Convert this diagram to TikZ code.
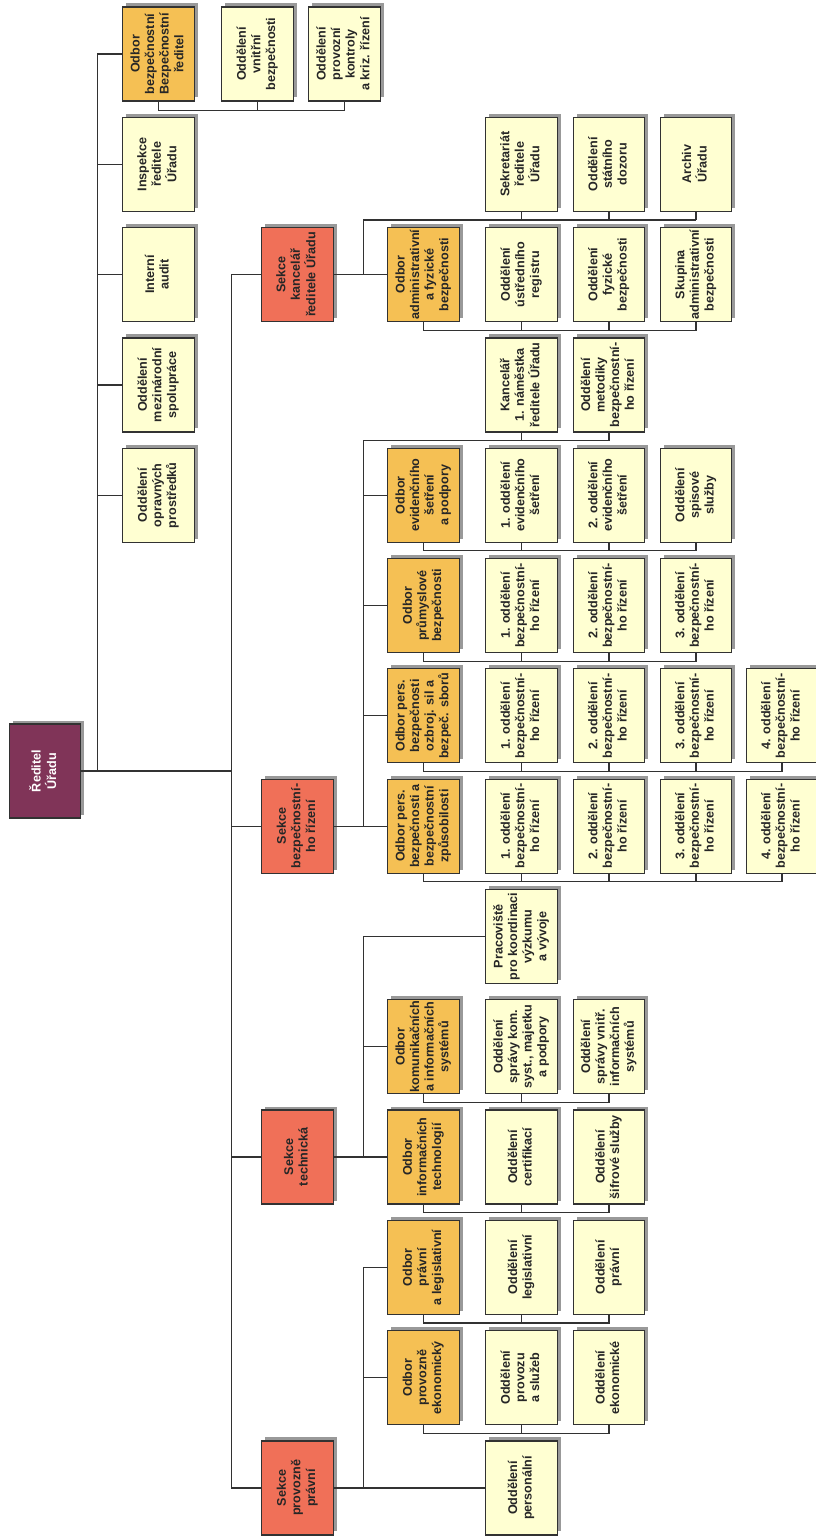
\documentclass[tikz,border=0pt]{standalone}
\usepackage{fontspec}
\setmainfont{Liberation Sans}
\usepackage{graphicx}
\usepackage{tikz}
\usetikzlibrary{positioning,shadows}
\definecolor{rootcol}{RGB}{128,52,88}
\definecolor{sekcecol}{RGB}{240,112,88}
\definecolor{odborcol}{RGB}{245,192,84}
\definecolor{oddcol}{RGB}{255,255,210}
\definecolor{linecol}{RGB}{50,50,50}
\newcommand{\vt}[1]{\rotatebox{90}{\begin{tabular}{@{}c@{}}#1\end{tabular}}}

\begin{document}
\begin{tikzpicture}[
    x=1pt, y=-1pt,
    box/.style={draw=linecol, line width=1.2pt, rectangle, minimum width=71.5pt, minimum height=94pt, inner sep=0pt,
        font=\bfseries\fontsize{12.6}{14.6}\selectfont, fill=oddcol, text=black!85,
        drop shadow={shadow xshift=3.5pt, shadow yshift=3.5pt, fill=black!40, opacity=1}},
    root/.style={box, fill=rootcol, text=white},
    sekce/.style={box, fill=sekcecol},
    odbor/.style={box, fill=odborcol},
    line/.style={draw=linecol, line width=1.2pt}
]
    \useasboundingbox (0,0) rectangle (816,1536);

    % Nodes
    \node[root] (reditel) at (45,771) {\vt{Ředitel\\Úřadu}};

    \node[odbor] (obBezp) at (158.5,54) {\vt{Odbor\\bezpečnostní\\Bezpečnostní\\ředitel}};
    \node[box] (vnitrni) at (257.5,54) {\vt{Oddělení\\vnitřní\\bezpečnosti}};
    \node[box] (provKont) at (344.5,54) {\vt{Oddělení\\provozní\\kontroly\\a kriz. řízení}};
    \node[box] (inspekce) at (158.5,164.3) {\vt{Inspekce\\ředitele\\Úřadu}};
    \node[box] (audit) at (158.5,274.6) {\vt{Interní\\audit}};
    \node[box] (mezinar) at (158.5,384.9) {\vt{Oddělení\\mezinárodní\\spolupráce}};
    \node[box] (opravne) at (158.5,495.2) {\vt{Oddělení\\opravných\\prostředků}};

    \node[sekce] (skKanc) at (297.5,274.6) {\vt{Sekce\\kancelář\\ředitele Úřadu}};
    \node[sekce] (skBezp) at (297.5,826.1) {\vt{Sekce\\bezpečnostní-\\ho řízení}};
    \node[sekce] (skTech) at (297.5,1157) {\vt{Sekce\\technická}};
    \node[sekce] (skProv) at (297.5,1487.9) {\vt{Sekce\\provozně\\právní}};

    % Sekce kancelar reditele
    \node[box] (sekret) at (521.5,164.3) {\vt{Sekretariát\\ředitele\\Úřadu}};
    \node[box] (statDoz) at (609,164.3) {\vt{Oddělení\\státního\\dozoru}};
    \node[box] (archiv) at (696,164.3) {\vt{Archiv\\Úřadu}};
    \node[odbor] (obAdm) at (423.5,274.6) {\vt{Odbor\\administrativní\\a fyzické\\bezpečnosti}};
    \node[box] (registr) at (521.5,274.6) {\vt{Oddělení\\ústředního\\registru}};
    \node[box] (fyzOdd) at (609,274.6) {\vt{Oddělení\\fyzické\\bezpečnosti}};
    \node[box] (skupina) at (696,274.6) {\vt{Skupina\\administrativní\\bezpečnosti}};

    % Sekce bezpecnostniho rizeni
    \node[box] (kanc1) at (521.5,384.9) {\vt{Kancelář\\1. náměstka\\ředitele Úřadu}};
    \node[box] (metod) at (609,384.9) {\vt{Oddělení\\metodiky\\bezpečnostní-\\ho řízení}};
    \node[odbor] (obEvid) at (423.5,495.2) {\vt{Odbor\\evidenčního\\šetření\\a podpory}};
    \node[box] (ev1) at (521.5,495.2) {\vt{1. oddělení\\evidenčního\\šetření}};
    \node[box] (ev2) at (609,495.2) {\vt{2. oddělení\\evidenčního\\šetření}};
    \node[box] (spis) at (696,495.2) {\vt{Oddělení\\spisové\\služby}};
    \node[odbor] (obPrum) at (423.5,605.5) {\vt{Odbor\\průmyslové\\bezpečnosti}};
    \node[box] (pr1) at (521.5,605.5) {\vt{1. oddělení\\bezpečnostní-\\ho řízení}};
    \node[box] (pr2) at (609,605.5) {\vt{2. oddělení\\bezpečnostní-\\ho řízení}};
    \node[box] (pr3) at (696,605.5) {\vt{3. oddělení\\bezpečnostní-\\ho řízení}};
    \node[odbor] (obOzb) at (423.5,715.8) {\vt{Odbor pers.\\bezpečnosti\\ozbroj. sil a\\bezpeč. sborů}};
    \node[box] (oz1) at (521.5,715.8) {\vt{1. oddělení\\bezpečnostní-\\ho řízení}};
    \node[box] (oz2) at (609,715.8) {\vt{2. oddělení\\bezpečnostní-\\ho řízení}};
    \node[box] (oz3) at (696,715.8) {\vt{3. oddělení\\bezpečnostní-\\ho řízení}};
    \node[box] (oz4) at (782,715.8) {\vt{4. oddělení\\bezpečnostní-\\ho řízení}};
    \node[odbor] (obZpus) at (423.5,826.1) {\vt{Odbor pers.\\bezpečnosti a\\bezpečnostní\\způsobilosti}};
    \node[box] (zp1) at (521.5,826.1) {\vt{1. oddělení\\bezpečnostní-\\ho řízení}};
    \node[box] (zp2) at (609,826.1) {\vt{2. oddělení\\bezpečnostní-\\ho řízení}};
    \node[box] (zp3) at (696,826.1) {\vt{3. oddělení\\bezpečnostní-\\ho řízení}};
    \node[box] (zp4) at (782,826.1) {\vt{4. oddělení\\bezpečnostní-\\ho řízení}};

    % Sekce technicka
    \node[box] (pracov) at (521.5,936.4) {\vt{Pracoviště\\pro koordinaci\\výzkumu\\a vývoje}};
    \node[odbor] (obKom) at (423.5,1046.7) {\vt{Odbor\\komunikačních\\a informačních\\systémů}};
    \node[box] (km1) at (521.5,1046.7) {\vt{Oddělení\\správy kom.\\syst., majetku\\a podpory}};
    \node[box] (km2) at (609,1046.7) {\vt{Oddělení\\správy vnitř.\\informačních\\systémů}};
    \node[odbor] (obInf) at (423.5,1157) {\vt{Odbor\\informačních\\technologií}};
    \node[box] (cert) at (521.5,1157) {\vt{Oddělení\\certifikací}};
    \node[box] (sifr) at (609,1157) {\vt{Oddělení\\šifrové služby}};

    % Sekce provozne pravni
    \node[odbor] (obPrav) at (423.5,1267.3) {\vt{Odbor\\právní\\a legislativní}};
    \node[box] (legis) at (521.5,1267.3) {\vt{Oddělení\\legislativní}};
    \node[box] (pravOdd) at (609,1267.3) {\vt{Oddělení\\právní}};
    \node[odbor] (obEko) at (423.5,1377.6) {\vt{Odbor\\provozně\\ekonomický}};
    \node[box] (provoz) at (521.5,1377.6) {\vt{Oddělení\\provozu\\a služeb}};
    \node[box] (ekon) at (609,1377.6) {\vt{Oddělení\\ekonomické}};
    \node[box] (persOdd) at (521.5,1487.9) {\vt{Oddělení\\personální}};

    % Connections
    \draw[line] (reditel.east) -- ++(16,0) |- (obBezp.west);
    \draw[line] (reditel.east) -- ++(16,0) |- (inspekce.west);
    \draw[line] (reditel.east) -- ++(16,0) |- (audit.west);
    \draw[line] (reditel.east) -- ++(16,0) |- (mezinar.west);
    \draw[line] (reditel.east) -- ++(16,0) |- (opravne.west);
    \draw[line] (obBezp.south) -- ++(0,9) -| (provKont.south);
    \draw[line] (vnitrni.south) -- ++(0,9);

    \draw[line] (reditel.east) -- ++(150,0) |- (skKanc.west);
    \draw[line] (reditel.east) -- ++(150,0) |- (skBezp.west);
    \draw[line] (reditel.east) -- ++(150,0) |- (skTech.west);
    \draw[line] (reditel.east) -- ++(150,0) |- (skProv.west);

    \draw[line] (skKanc.east) -- ++(30,0) |- ([yshift=-8pt]archiv.south);
    \draw[line] (sekret.south) -- ++(0,8);
    \draw[line] (statDoz.south) -- ++(0,8);
    \draw[line] (archiv.south) -- ++(0,8);
    \draw[line] (skKanc.east) -- (obAdm.west);
    \draw[line] (obAdm.south) -- ++(0,8) -| (skupina.south);
    \draw[line] (registr.south) -- ++(0,8);
    \draw[line] (fyzOdd.south) -- ++(0,8);

    \draw[line] (skBezp.east) -- ++(30,0) |- ([yshift=-8pt]metod.south);
    \draw[line] (kanc1.south) -- ++(0,8);
    \draw[line] (metod.south) -- ++(0,8);
    \draw[line] (skBezp.east) -- ++(30,0) |- (obEvid.west);
    \draw[line] (skBezp.east) -- ++(30,0) |- (obPrum.west);
    \draw[line] (skBezp.east) -- ++(30,0) |- (obOzb.west);
    \draw[line] (skBezp.east) -- (obZpus.west);
    \draw[line] (obEvid.south) -- ++(0,8) -| (spis.south);
    \draw[line] (ev1.south) -- ++(0,8);
    \draw[line] (ev2.south) -- ++(0,8);
    \draw[line] (obPrum.south) -- ++(0,8) -| (pr3.south);
    \draw[line] (pr1.south) -- ++(0,8);
    \draw[line] (pr2.south) -- ++(0,8);
    \draw[line] (obOzb.south) -- ++(0,8) -| (oz4.south);
    \draw[line] (oz1.south) -- ++(0,8);
    \draw[line] (oz2.south) -- ++(0,8);
    \draw[line] (oz3.south) -- ++(0,8);
    \draw[line] (obZpus.south) -- ++(0,8) -| (zp4.south);
    \draw[line] (zp1.south) -- ++(0,8);
    \draw[line] (zp2.south) -- ++(0,8);
    \draw[line] (zp3.south) -- ++(0,8);

    \draw[line] (skTech.east) -- ++(30,0) |- (pracov.west);
    \draw[line] (skTech.east) -- ++(30,0) |- (obKom.west);
    \draw[line] (skTech.east) -- (obInf.west);
    \draw[line] (obKom.south) -- ++(0,8) -| (km2.south);
    \draw[line] (km1.south) -- ++(0,8);
    \draw[line] (obInf.south) -- ++(0,8) -| (sifr.south);
    \draw[line] (cert.south) -- ++(0,8);

    \draw[line] (skProv.east) -- (persOdd.west);
    \draw[line] (skProv.east) -- ++(30,0) |- (obPrav.west);
    \draw[line] (skProv.east) -- ++(30,0) |- (obEko.west);
    \draw[line] (obPrav.south) -- ++(0,8) -| (pravOdd.south);
    \draw[line] (legis.south) -- ++(0,8);
    \draw[line] (obEko.south) -- ++(0,8) -| (ekon.south);
    \draw[line] (provoz.south) -- ++(0,8);
\end{tikzpicture}
\end{document}
